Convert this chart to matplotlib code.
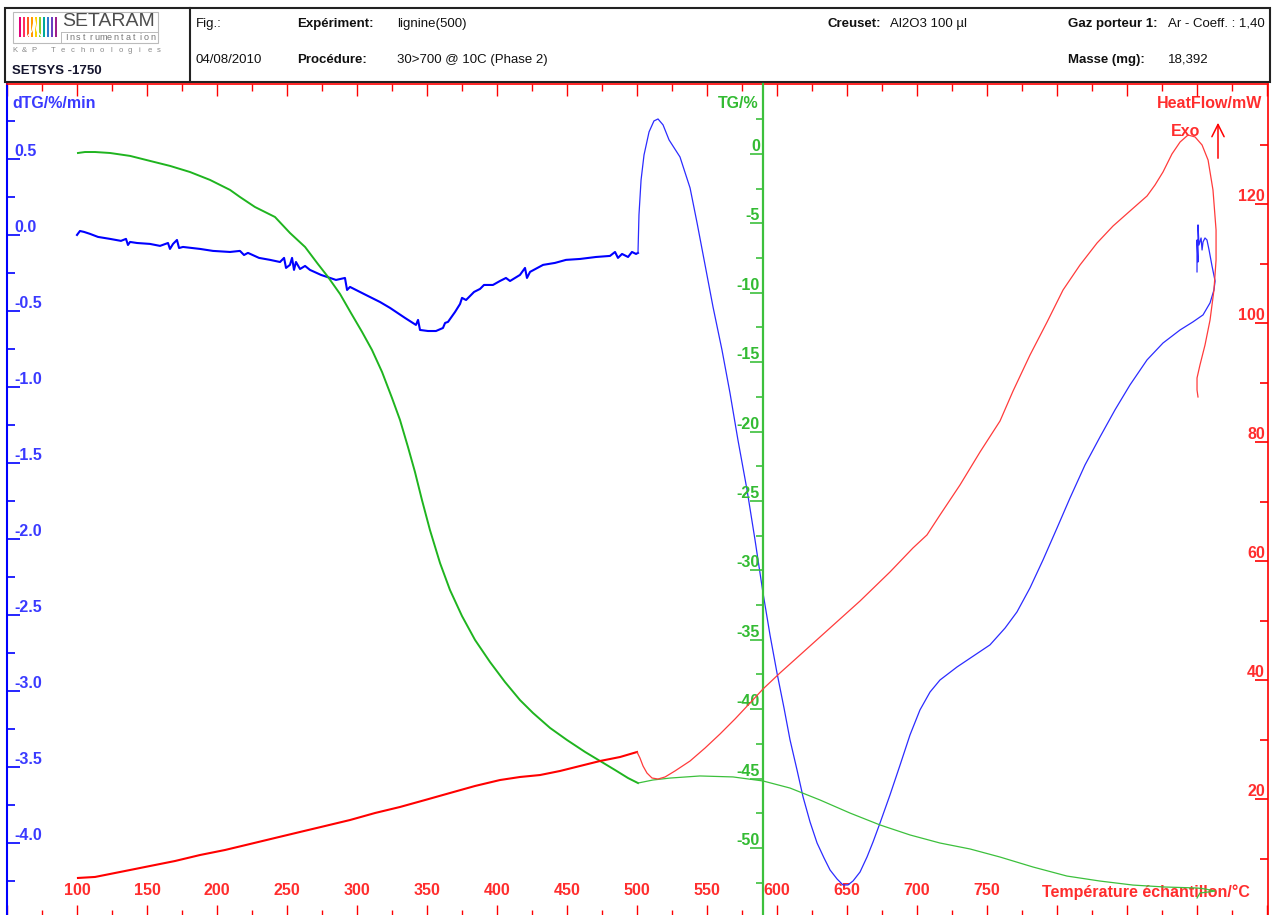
import numpy as np
import matplotlib
matplotlib.use('Agg')
import matplotlib.pyplot as plt
from matplotlib.patches import Rectangle
from matplotlib.transforms import Bbox

plt.rcParams['font.family'] = ['Liberation Sans', 'DejaVu Sans']

# ---------------- data (temperature in °C) ----------------
# dTG (%/min), phase 1 (heating up to 500 °C)
dtg_t1 = [100.0,102.1,105.0,109.3,115.0,123.6,131.4,135.0,136.4,137.9,142.9,152.1,159.3,165.0,166.4,168.6,171.4,172.9,175.7,187.9,197.1,209.3,216.4,219.3,222.1,230.0,237.9,245.0,247.9,249.3,252.1,253.6,255.0,256.4,259.3,262.9,266.4,274.3,285.0,291.4,292.9,295.0,306.4,316.4,323.6,334.3,342.1,343.6,345.0,350.7,356.4,361.4,362.9,365.0,370.0,373.6,375.0,377.9,383.6,387.9,390.7,397.1,402.1,406.4,409.3,416.4,420.0,421.4,423.6,432.9,441.4,449.3,459.3,470.7,480.7,484.3,486.4,489.3,493.6,496.4,499.3,500.7]
dtg_v1 = [0.000,0.026,0.020,0.007,-0.013,-0.026,-0.039,-0.026,-0.066,-0.046,-0.053,-0.059,-0.072,-0.053,-0.092,-0.059,-0.033,-0.086,-0.079,-0.092,-0.105,-0.112,-0.105,-0.132,-0.118,-0.151,-0.164,-0.178,-0.151,-0.217,-0.197,-0.151,-0.230,-0.178,-0.224,-0.204,-0.230,-0.263,-0.296,-0.283,-0.362,-0.342,-0.395,-0.441,-0.480,-0.546,-0.592,-0.559,-0.625,-0.632,-0.632,-0.612,-0.579,-0.572,-0.507,-0.454,-0.414,-0.428,-0.375,-0.355,-0.329,-0.329,-0.303,-0.283,-0.303,-0.263,-0.217,-0.283,-0.243,-0.197,-0.184,-0.164,-0.158,-0.145,-0.138,-0.112,-0.151,-0.125,-0.145,-0.112,-0.125,-0.118]
# dTG, phase 2
dtg_t2 = [500.7,501.4,502.9,505.0,508.6,512.1,515.0,518.6,522.9,530.7,537.9,542.9,548.6,554.3,560.7,566.4,572.1,578.6,584.3,590.0,595.0,600.0,605.0,609.3,614.3,618.6,623.6,628.6,633.6,637.9,642.9,647.1,650.7,654.3,659.3,664.3,668.6,673.6,680.7,687.9,695.0,702.1,709.3,716.4,728.6,741.4,752.1,762.9,771.4,780.7,790.0,800.0,809.3,820.0,830.7,841.4,852.1,864.3,875.7,887.9,897.1,904.3,909.3,912.1,912.9,910.7,908.6,907.1,905.7,904.3,903.6,902.9,901.4,900.7,900.7,900.0,900.0]
dtg_v2 = [-0.118,0.132,0.362,0.526,0.678,0.750,0.763,0.724,0.625,0.513,0.309,0.079,-0.197,-0.474,-0.757,-1.039,-1.349,-1.678,-2.007,-2.355,-2.632,-2.882,-3.112,-3.322,-3.520,-3.697,-3.862,-4.000,-4.099,-4.178,-4.237,-4.276,-4.276,-4.250,-4.191,-4.092,-3.993,-3.868,-3.684,-3.487,-3.289,-3.125,-3.007,-2.928,-2.842,-2.763,-2.697,-2.586,-2.480,-2.322,-2.138,-1.928,-1.730,-1.513,-1.329,-1.151,-0.987,-0.822,-0.711,-0.625,-0.572,-0.526,-0.447,-0.362,-0.303,-0.204,-0.099,-0.033,-0.020,-0.046,-0.099,-0.020,-0.066,0.066,-0.178,-0.033,-0.243]

# TG (%)
tg_t1 = [100.7,105.7,112.9,123.6,137.9,152.1,166.4,180.7,195.0,209.3,216.4,227.1,241.4,252.1,262.9,272.1,279.3,287.9,295.7,303.6,310.7,317.9,325.0,330.7,336.4,341.4,346.4,352.1,359.3,366.4,375.0,384.3,395.0,405.7,416.4,425.7,437.9,450.0,462.9,473.6,484.3,493.6,500.7]
tg_v1 = [0.07,0.14,0.14,0.07,-0.14,-0.50,-0.86,-1.30,-1.87,-2.59,-3.10,-3.82,-4.54,-5.69,-6.70,-7.93,-8.86,-10.09,-11.46,-12.82,-14.12,-15.71,-17.58,-19.16,-21.11,-22.91,-24.93,-27.09,-29.47,-31.41,-33.29,-35.01,-36.60,-38.04,-39.34,-40.27,-41.35,-42.22,-43.08,-43.73,-44.38,-44.96,-45.32]
tg_t2 = [500.7,511.4,523.6,545.0,568.6,590.0,609.3,630.7,652.1,673.6,695.0,716.4,737.9,759.3,782.9,807.1,830.7,854.3,877.1,900.0,905.7,912.9,907.9,902.1,900.0]
tg_v2 = [-45.32,-45.10,-44.96,-44.81,-44.88,-45.17,-45.68,-46.54,-47.48,-48.34,-49.06,-49.64,-50.07,-50.65,-51.37,-52.02,-52.38,-52.67,-52.81,-52.88,-52.95,-53.10,-53.17,-53.24,-53.60]

# HeatFlow (mW)
hf_t1 = [100.7,112.9,123.6,137.9,152.1,170.0,187.9,205.7,223.6,241.4,259.3,277.1,295.0,312.9,330.7,348.6,366.4,384.3,402.1,416.4,430.7,445.0,459.3,473.6,487.9,500.0]
hf_v1 = [6.73,6.90,7.40,8.07,8.74,9.58,10.59,11.43,12.44,13.45,14.46,15.46,16.47,17.65,18.66,19.83,21.01,22.19,23.19,23.70,24.03,24.71,25.55,26.39,27.06,27.90]
hf_t2 = [500.0,502.1,504.3,507.1,510.7,515.0,520.0,527.1,537.9,548.6,559.3,570.0,580.7,590.0,602.1,616.4,637.9,659.3,680.7,697.1,707.1,716.4,730.7,745.0,759.3,768.6,780.7,792.9,804.3,816.4,828.6,840.0,852.1,864.3,870.0,875.7,882.1,887.9,893.6,898.6,903.6,907.9,911.4,913.6,913.6,912.1,909.3,905.7,902.1,900.0,900.0,900.7]
hf_v2 = [27.90,26.90,25.55,24.37,23.53,23.36,23.70,24.71,26.39,28.57,30.93,33.45,36.13,38.49,41.18,44.20,48.75,53.28,58.16,62.19,64.38,67.73,72.78,78.32,83.54,88.57,94.62,100.17,105.55,109.75,113.45,116.30,118.82,121.35,123.20,125.38,128.41,130.42,131.60,131.27,129.92,127.39,122.36,115.63,110.59,105.55,100.50,96.30,92.94,90.76,88.74,87.57]

# axes ticks
x_major = list(range(50, 951, 50))
x_minor = list(range(75, 951, 50))
x_labeled = list(range(100, 751, 50))
dtg_major = [-4.0, -3.5, -3.0, -2.5, -2.0, -1.5, -1.0, -0.5, 0.0, 0.5]
dtg_minor = [-4.25, -3.75, -3.25, -2.75, -2.25, -1.75, -1.25, -0.75, -0.25, 0.25, 0.75]
tg_major = [-50, -45, -40, -35, -30, -25, -20, -15, -10, -5, 0]
tg_minor = [-52.5, -47.5, -42.5, -37.5, -32.5, -27.5, -22.5, -17.5, -12.5, -7.5, -2.5, 2.5]
hf_major = [20, 40, 60, 80, 100, 120]
hf_minor = [10, 30, 50, 70, 90, 110, 130]

# header texts
hdr_row1 = [("Fig.:", False), ("Expériment:", True), ("lignine(500)", False),
            ("Creuset:", True), ("Al2O3 100 µl", False), ("Gaz porteur 1:", True)]
hdr_row1_x = [196, 297, 397, 827, 890, 1068]
hdr_row2 = [("04/08/2010", False), ("Procédure:", True), ("30>700 @ 10C (Phase 2)", False),
            ("Masse (mg):", True), ("18,392", False)]
hdr_row2_x = [196, 297, 397, 1068, 1168]

BLUE = '#0000ff'; BLUE_T = '#3a3aff'
GREEN = '#1fb41f'; GREEN2 = '#3cc03c'; GREEN_T = '#33bb33'
RED = '#ff0000'; RED2 = '#ff3b3b'; RED_T = '#ff2d2d'

W, H = 1277, 915
fig = plt.figure(figsize=(W / 100, H / 100), dpi=100)
fig.patch.set_facecolor('white')

# -------- header (pixel coordinates) --------
hd = fig.add_axes([0, 0, 1, 1])
hd.set_xlim(0, W); hd.set_ylim(H, 0); hd.axis('off')
hd.add_patch(Rectangle((5, 8), 1265, 74, fill=False, ec='#222222', lw=1.5))
hd.plot([190, 190], [8, 82], color='#222222', lw=1.5)
for (s, b), x in zip(hdr_row1, hdr_row1_x):
    hd.text(x, 24, s, fontsize=9.5, fontweight='bold' if b else 'normal', va='center', color='#111111')
t = hd.text(1168, 24, "Ar - Coeff. : 1,40", fontsize=9.5, va='center', color='#111111')
t.set_clip_box(Bbox.from_extents(0, 0, 1269, H)); t.set_clip_on(True)
for (s, b), x in zip(hdr_row2, hdr_row2_x):
    hd.text(x, 60, s, fontsize=9.5, fontweight='bold' if b else 'normal', va='center', color='#111111')
hd.text(12, 71, "SETSYS -1750", fontsize=9.5, fontweight='bold', va='center', color='#15152e')

# logo
hd.add_patch(Rectangle((13, 12), 145, 31, fill=False, ec='#bbbbbb', lw=0.8))
bar_colors = ['#e0007a', '#ff2f5f', '#ff5a1f', '#ff9a00', '#ffd000',
              '#8ccc2a', '#00a99d', '#2e7bd0', '#6a3fc0', '#a0208e']
for i, c in enumerate(bar_colors):
    hd.add_patch(Rectangle((18.5 + i * 4.0, 17), 2.8, 20, color=c, lw=0))
hd.plot([27, 32, 34.5, 37, 42], [37, 31, 19, 31, 37], color='white', lw=0.9)
hd.text(62, 22, "SETARAM", fontsize=14, color='#4d4d4d', va='center')
hd.plot([61, 157], [31.5, 31.5], color='#bbbbbb', lw=0.7)
hd.plot([61, 61], [31.5, 43], color='#bbbbbb', lw=0.7)
for i, ch in enumerate("Instrumentation"):
    hd.text(66 + i * 6.2, 37.5, ch, fontsize=6.5, color='#777777', ha='center', va='center')
for i, ch in enumerate("K&P Technologies"):
    hd.text(15 + i * 9.6, 50, ch, fontsize=5.5, color='#888888', ha='center', va='center')

# -------- main plot --------
ax = fig.add_axes([7 / W, 1 - 917 / H, (1268 - 7) / W, (917 - 84) / H])
ax.patch.set_visible(False)
ax.set_xlim(50, 950.7)
ax.set_ylim(-4.487, 0.993)
ax_tg = ax.twinx(); ax_tg.set_ylim(-54.97, 5.04)
ax_hf = ax.twinx(); ax_hf.set_ylim(0.17, 140.17)

# spines
for s in ['top', 'bottom']:
    ax.spines[s].set_color(RED); ax.spines[s].set_linewidth(1.2)
ax.spines['left'].set_color(BLUE); ax.spines['left'].set_linewidth(1.5)
ax.spines['right'].set_visible(False)
for s in ['top', 'bottom', 'right']:
    ax_tg.spines[s].set_visible(False)
ax_tg.spines['left'].set_visible(True)
ax_tg.spines['left'].set_position(('data', 590))
ax_tg.spines['left'].set_color(GREEN2); ax_tg.spines['left'].set_linewidth(1.6)
for s in ['top', 'bottom', 'left']:
    ax_hf.spines[s].set_visible(False)
ax_hf.spines['right'].set_color(RED); ax_hf.spines['right'].set_linewidth(1.2)

LS = 11.5
# x ticks
ax.tick_params(axis='x', which='major', direction='in', length=8.6, width=1.0, color=RED,
               top=True, bottom=True, labelcolor=RED_T, labelsize=LS, pad=-13.5)
ax.tick_params(axis='x', which='minor', direction='in', length=5, width=1.0, color=RED,
               top=True, bottom=True)
ax.set_xticks(x_major, [str(v) if v in x_labeled else '' for v in x_major],
              fontweight='bold', va='bottom')
ax.set_xticks(x_minor, minor=True)

# dTG ticks
ax.tick_params(axis='y', which='major', direction='in', length=9.4, width=1.2, color=BLUE,
               labelcolor=BLUE_T, labelsize=LS, pad=-5)
ax.tick_params(axis='y', which='minor', direction='in', length=5.8, width=1.2, color=BLUE)
ax.set_yticks(dtg_major, [f'{v:.1f}' for v in dtg_major], fontweight='bold', ha='left', va='bottom')
ax.set_yticks(dtg_minor, minor=True)

# TG ticks
ax_tg.yaxis.set_ticks_position('left')
ax_tg.tick_params(axis='y', which='major', direction='out', length=9.4, width=1.2, color=GREEN2,
                  labelcolor=GREEN_T, labelsize=LS, pad=-7.2, left=True, right=False,
                  labelleft=True, labelright=False)
ax_tg.tick_params(axis='y', which='minor', direction='out', length=5, width=1.2, color=GREEN2,
                  left=True, right=False)
ax_tg.set_yticks(tg_major, [str(v) for v in tg_major], fontweight='bold', ha='right', va='bottom')
ax_tg.set_yticks(tg_minor, minor=True)

# HF ticks
ax_hf.tick_params(axis='y', which='major', direction='in', length=9.4, width=1.2, color=RED,
                  labelcolor=RED_T, labelsize=LS, pad=-2.2)
ax_hf.tick_params(axis='y', which='minor', direction='in', length=5.8, width=1.2, color=RED)
ax_hf.set_yticks(hf_major, [str(v) for v in hf_major], fontweight='bold', ha='right', va='bottom')
ax_hf.set_yticks(hf_minor, minor=True)

# curves
ax.plot(dtg_t1, dtg_v1, color=BLUE, lw=1.5)
ax.plot(dtg_t2, dtg_v2, color='#2b2bff', lw=0.9)
ax_tg.plot(tg_t1, tg_v1, color=GREEN, lw=1.4)
ax_tg.plot(tg_t2, tg_v2, color=GREEN2, lw=0.9)
ax_hf.plot(hf_t1, hf_v1, color=RED, lw=1.5)
ax_hf.plot(hf_t2, hf_v2, color=RED2, lw=0.9)

# axis titles
hd.text(12, 104, "dTG/%/min", color=BLUE_T, fontsize=LS, fontweight='bold', va='center')
hd.text(759, 104, "TG/%", color=GREEN_T, fontsize=LS, fontweight='bold', va='center', ha='right')
hd.text(1262, 104, "HeatFlow/mW", color=RED_T, fontsize=LS, fontweight='bold', va='center', ha='right')
hd.text(1186, 131, "Exo", color=RED_T, fontsize=LS, fontweight='bold', va='center', ha='center')
hd.annotate('', xy=(1218, 120), xytext=(1218, 161),
            arrowprops=dict(arrowstyle='->', color=RED, lw=1.1, mutation_scale=22))
hd.text(1250, 892, "Température échantillon/°C", color=RED_T, fontsize=LS, fontweight='bold',
        va='center', ha='right', zorder=0)

fig.savefig('out.png', dpi=100)
